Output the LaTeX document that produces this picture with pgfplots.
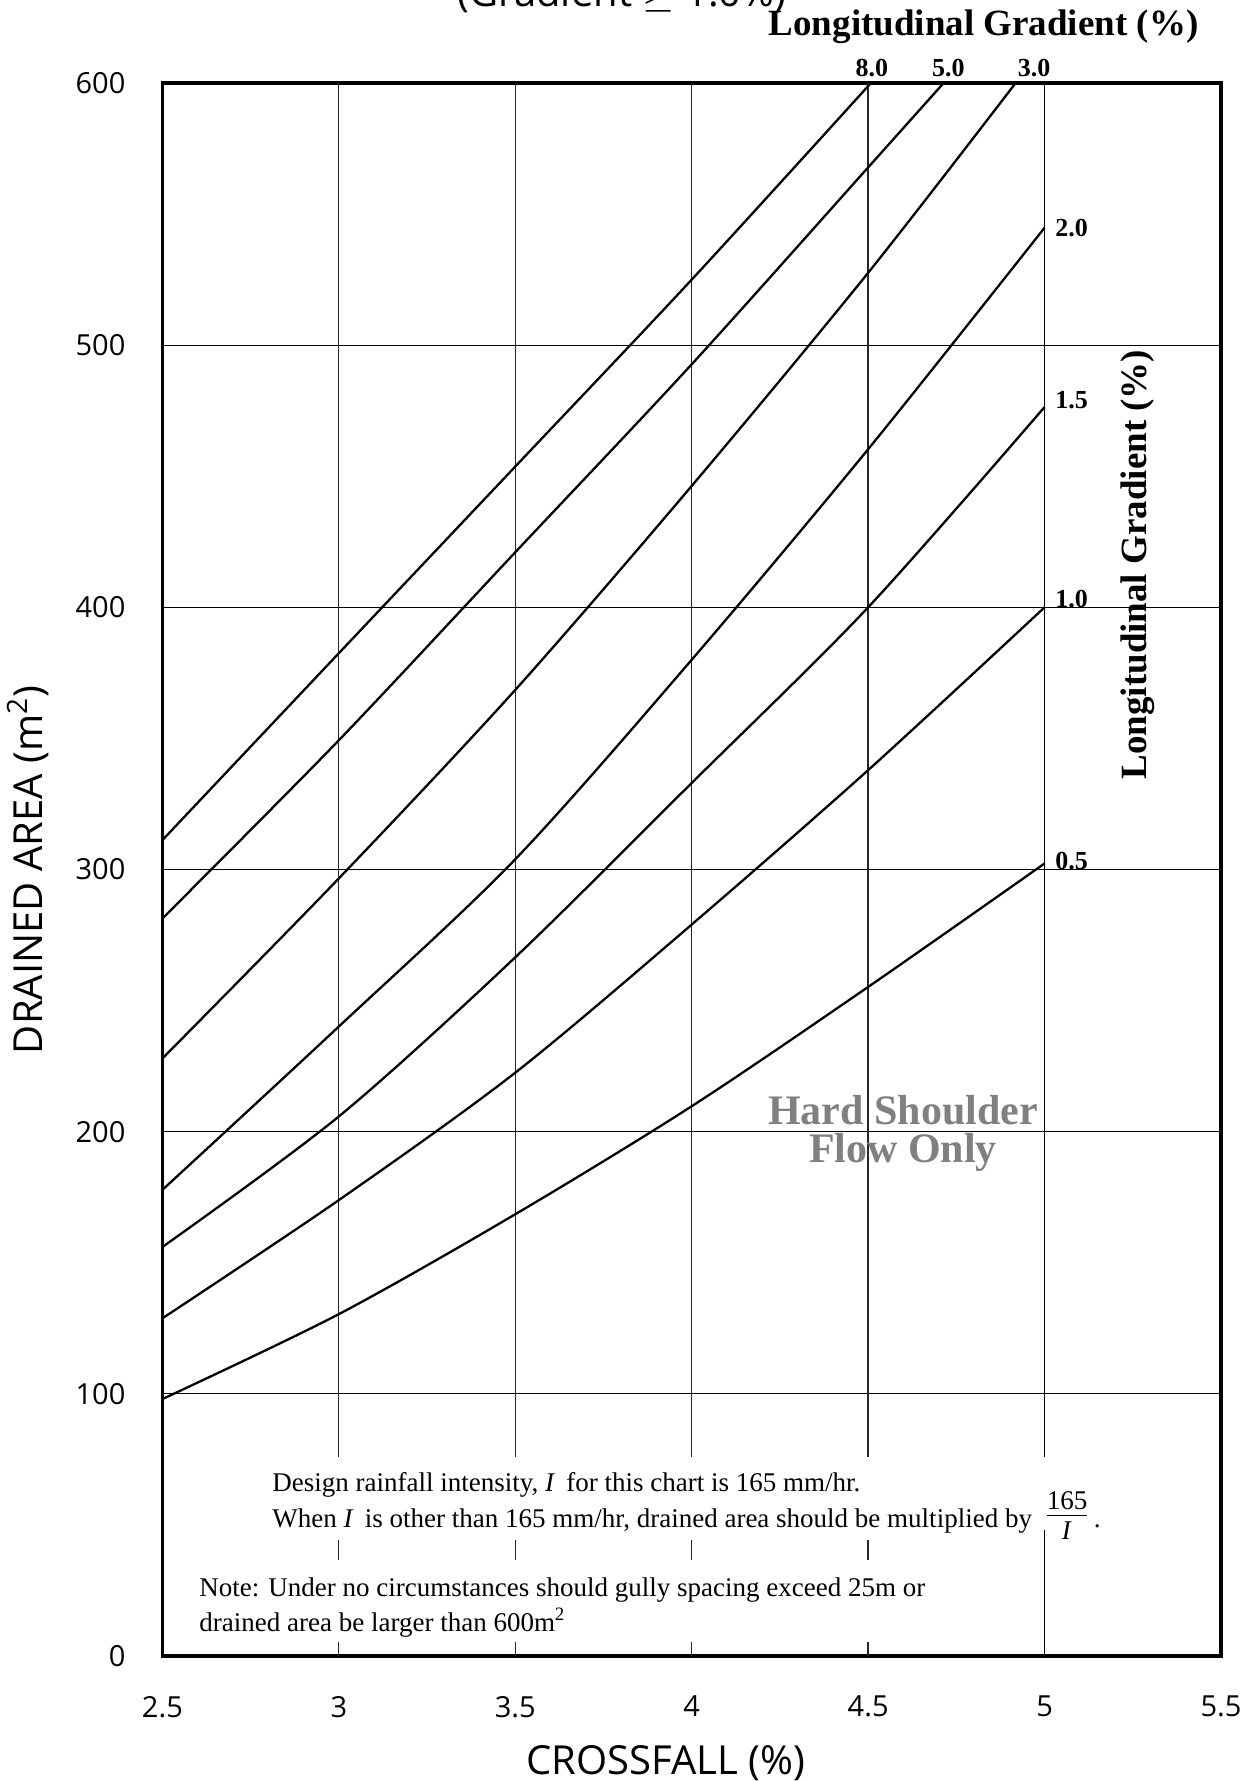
\documentclass[border=0pt]{standalone}
\usepackage{fontspec}
\setmainfont{Liberation Serif}
\newfontfamily\osans{Open Sans}
\usepackage{pgfplots}
\pgfplotsset{compat=1.18}

\pgfplotstableread{
x y
2.5 311.2
3.0 382.5
3.5 453.7
4.0 525
4.508 600
}\gradA
\pgfplotstableread{
x y
2.5 281.3
3.0 349.3
3.5 421
4.0 492.7
4.5 567.8
4.714 600
}\gradB
\pgfplotstableread{
x y
2.5 227.9
3.0 296.6
3.5 368.5
4.0 446.3
4.5 527.6
4.918 600
}\gradC
\pgfplotstableread{
x y
2.5 177.8
3.0 240.1
3.5 303.9
4.0 380
4.5 460.3
5.0 544.8
}\gradD
\pgfplotstableread{
x y
2.5 156.0
3.0 205.8
3.5 266.5
4.0 333
4.5 400
5.0 476.4
}\gradE
\pgfplotstableread{
x y
2.5 128.8
3.0 173.9
3.5 222.5
4.0 279
4.5 337.9
5.0 400
}\gradF
\pgfplotstableread{
x y
2.5 98.0
3.0 130.4
3.5 168.5
4.0 209.7
4.5 255.2
5.0 302.3
}\gradG

\begin{document}
\begin{tikzpicture}
\useasboundingbox (-81.2pt,-62.5pt) rectangle (546.3pt,828pt);
\begin{axis}[
  at={(0pt,0pt)}, anchor=south west,
  width=529.3pt, height=786.5pt, scale only axis,
  xmin=2.5, xmax=5.5, ymin=0, ymax=600,
  xtick={2.5,3,3.5,4,4.5,5,5.5},
  xticklabels={2.5,3,3.5,4,4.5,5,5.5},
  ytick={0,100,200,300,400,500,600},
  yticklabels={0,100,200,300,400,500,600},
  axis line style={line width=1.65pt},
  ymajorgrids,
  grid style={black, line width=0.65pt},
  major tick length=0pt,
  ticklabel style={font=\osans\fontsize{14.5}{17}\selectfont},
  xticklabel style={yshift=-16.5pt},
  yticklabel style={xshift=-15pt},
  cycle list={{black, solid, line width=1.15pt, smooth, tension=0.5}},
]
\pgfplotsinvokeforeach{3,3.5,4,4.5}{
  \draw[black!85, line width=0.65pt] (axis cs:#1,75.9) -- (axis cs:#1,600);
  \draw[black!85, line width=0.65pt] (axis cs:#1,36.6) -- (axis cs:#1,44.2);
  \draw[black!85, line width=0.65pt] (axis cs:#1,0) -- (axis cs:#1,5.3);
}
\draw[black, line width=0.65pt] (axis cs:5,75.9) -- (axis cs:5,600);
\draw[black, line width=0.65pt] (axis cs:5,0) -- (axis cs:5,48.1);

\addplot[black, solid, line width=1.15pt, smooth, tension=0.5, mark=none] table[x=x,y=y] {\gradA};
\addplot[black, solid, line width=1.15pt, smooth, tension=0.5, mark=none] table[x=x,y=y] {\gradB};
\addplot[black, solid, line width=1.15pt, smooth, tension=0.5, mark=none] table[x=x,y=y] {\gradC};
\addplot[black, solid, line width=1.15pt, smooth, tension=0.5, mark=none] table[x=x,y=y] {\gradD};
\addplot[black, solid, line width=1.15pt, smooth, tension=0.5, mark=none] table[x=x,y=y] {\gradE};
\addplot[black, solid, line width=1.15pt, smooth, tension=0.5, mark=none] table[x=x,y=y] {\gradF};
\addplot[black, solid, line width=1.15pt, smooth, tension=0.5, mark=none] table[x=x,y=y] {\gradG};
\end{axis}

% partially visible title (cut at top, as in the reference)
\node[anchor=base, font=\osans\fontsize{20}{24}\selectfont] at (229.8pt,824.5pt) {(Gradient $\geq$ 1.0\%)};

% axis labels
\node[anchor=base, font=\osans\fontsize{20}{24}\selectfont] at (251.8pt,-59pt) {CROSSFALL (\%)};
\node[rotate=90, font=\osans\fontsize{20}{24}\selectfont] at (-67.2pt,393pt) {DRAINED AREA (m\textsuperscript{2})};

% gradient labels
\node[anchor=base, font=\bfseries\fontsize{18.5}{22}\selectfont] at (410.6pt,810pt) {Longitudinal Gradient (\%)};
\node[rotate=90, font=\bfseries\fontsize{18.5}{22}\selectfont] at (487.8pt,545.7pt) {Longitudinal Gradient (\%)};
\node[anchor=base, font=\bfseries\fontsize{13}{15}\selectfont] at (354.7pt,789.5pt) {8.0};
\node[anchor=base, font=\bfseries\fontsize{13}{15}\selectfont] at (393pt,789.5pt) {5.0};
\node[anchor=base, font=\bfseries\fontsize{13}{15}\selectfont] at (435.8pt,789.5pt) {3.0};
\node[anchor=west, inner sep=0pt, font=\bfseries\fontsize{13}{15}\selectfont] at (446.3pt,713.9pt) {2.0};
\node[anchor=west, inner sep=0pt, font=\bfseries\fontsize{13}{15}\selectfont] at (446.3pt,628pt) {1.5};
\node[anchor=west, inner sep=0pt, font=\bfseries\fontsize{13}{15}\selectfont] at (446.3pt,528.3pt) {1.0};
\node[anchor=west, inner sep=0pt, font=\bfseries\fontsize{13}{15}\selectfont] at (446.3pt,397.7pt) {0.5};

% hard shoulder
\node[anchor=base, text=black!50, font=\bfseries\fontsize{21}{24}\selectfont] at (370.3pt,265.5pt) {Hard Shoulder};
\node[anchor=base, text=black!50, font=\bfseries\fontsize{21}{24}\selectfont] at (370.3pt,246.5pt) {Flow Only};

% notes
\node[anchor=base west, inner sep=0pt, font=\fontsize{13.5}{16}\selectfont] at (54.8pt,82pt) {Design rainfall intensity, \textit{I}\, for this chart is 165 mm/hr.};
\node[anchor=base west, inner sep=0pt, font=\fontsize{13.5}{16}\selectfont] at (54.8pt,64pt) {When \textit{I}\, is other than 165 mm/hr, drained area should be multiplied by};
\node[inner sep=0pt, font=\fontsize{13.5}{16}\selectfont] at (452.3pt,69pt) {\begin{tabular}{@{}c@{}}165\\[-2pt]\hline\rule{0pt}{12pt}\textit{I}\end{tabular}};
\node[anchor=base west, inner sep=0pt, font=\fontsize{13.5}{16}\selectfont] at (465.5pt,64pt) {.};
\node[anchor=base west, inner sep=0pt, font=\fontsize{13.5}{16}\selectfont] at (18.3pt,29.5pt) {Note: Under no circumstances should gully spacing exceed 25m or};
\node[anchor=base west, inner sep=0pt, font=\fontsize{13.5}{16}\selectfont] at (18.3pt,12.5pt) {drained area be larger than 600m\textsuperscript{2}};
\end{tikzpicture}
\end{document}
